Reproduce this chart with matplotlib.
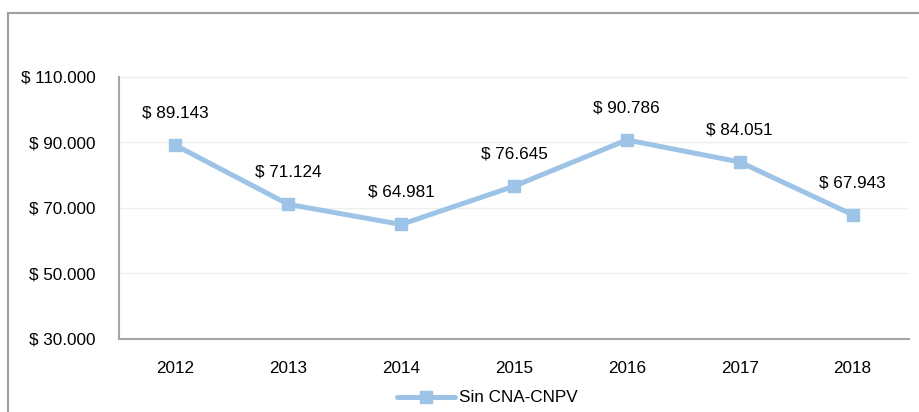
import matplotlib
matplotlib.use("Agg")
import matplotlib.pyplot as plt
from matplotlib.lines import Line2D
from matplotlib.ticker import FuncFormatter

years = ["2012", "2013", "2014", "2015", "2016", "2017", "2018"]
values = [89143, 71124, 64981, 76645, 90786, 84051, 67943]
series_name = "Sin CNA-CNPV"
yticks = [30000, 50000, 70000, 90000, 110000]

plt.rcParams['font.family'] = ['Liberation Sans', 'DejaVu Sans']

def money(v):
    return "$ " + f"{int(round(v)):,}".replace(",", ".")

fig = plt.figure(figsize=(9.19, 4.12), dpi=100)
ax = fig.add_axes([119/919, 1-339/412, (909-119)/919, (339-77)/412])

color = "#9DC3E6"
x = list(range(len(years)))
ax.plot(x, values, color=color, lw=3.6, marker="s", markersize=9,
        solid_capstyle="round", label=series_name, zorder=3)
for xi, v in zip(x, values):
    ax.annotate(money(v), (xi, v), xytext=(0, 23), textcoords="offset points",
                ha="center", va="center", fontsize=12.3, color="black")

ax.set_xlim(-0.5, len(years) - 0.5)
ax.set_ylim(30000, 110000)
ax.set_yticks(yticks)
ax.yaxis.set_major_formatter(FuncFormatter(lambda v, p: money(v)))
ax.set_xticks(x)
ax.set_xticklabels(years)
ax.tick_params(axis="both", length=0, labelsize=12.3, colors="black")
ax.tick_params(axis="y", pad=17)
ax.tick_params(axis="x", pad=16)
ax.grid(axis="y", color="#eeeeee", lw=1)
ax.set_axisbelow(True)
for s in ["top", "right"]:
    ax.spines[s].set_visible(False)
for s in ["left", "bottom"]:
    ax.spines[s].set_color("#a6a6a6")
    ax.spines[s].set_linewidth(1.5)

leg = fig.legend(loc="center", bbox_to_anchor=(0.53, 1-398/412), frameon=False,
                 fontsize=12.3, handlelength=3.4, handletextpad=0.2)
for t in leg.get_texts():
    t.set_color("black")

# outer frame (top and left edges visible)
fig.add_artist(Line2D([8/919, 8/919], [0, 1-13/412], transform=fig.transFigure,
                      color="#a0a0a0", lw=1.5))
fig.add_artist(Line2D([8/919, 1], [1-13/412, 1-13/412], transform=fig.transFigure,
                      color="#a0a0a0", lw=1.5))

fig.savefig("out.png", dpi=100)
